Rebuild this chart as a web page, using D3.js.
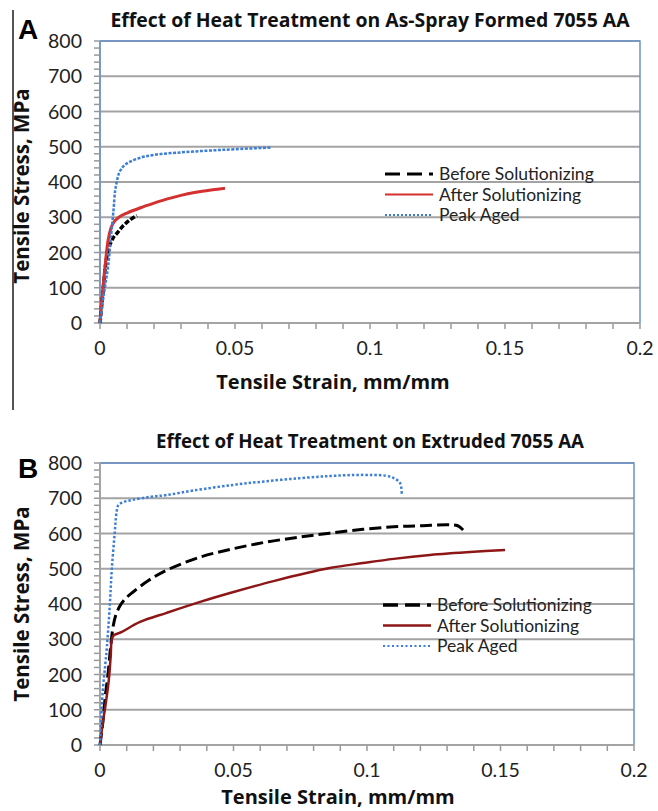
<!DOCTYPE html>
<html>
<head>
<meta charset="utf-8">
<script src="https://cdn.jsdelivr.net/npm/d3@7"></script>
<style>
  body { margin: 0; background: #fff; }
  svg { display: block; font-family: Lato, "Open Sans", sans-serif; }
</style>
</head>
<body>
<div id="chart-area"></div>
<script>
// Panel A: as-spray formed
const aBeforeStrain = [0, 0.001, 0.002, 0.003, 0.004, 0.005, 0.0063, 0.0085, 0.011, 0.0137]
const aBeforeStress = [0, 80, 160, 207, 228, 243, 255, 275, 292, 305]
const aAfterStrain = [0, 0.001, 0.002, 0.003, 0.004, 0.005, 0.007, 0.01, 0.015, 0.02, 0.025, 0.03, 0.035, 0.04, 0.0463]
const aAfterStress = [0, 90, 170, 235, 268, 285, 300, 312, 327, 340, 352, 362, 370, 376, 382]
const aPeakStrain = [0, 0.001, 0.002, 0.003, 0.004, 0.005, 0.0056, 0.0062, 0.007, 0.0086, 0.011, 0.015, 0.02, 0.03, 0.04, 0.05, 0.0637]
const aPeakStress = [0, 60, 110, 160, 240, 320, 375, 400, 424, 444, 457, 469, 477, 484, 489, 493, 498]

// Panel B: extruded
const bBeforeStrain = [0, 0.001, 0.002, 0.003, 0.004, 0.005, 0.006, 0.0075, 0.0095, 0.0124, 0.018, 0.025, 0.0375, 0.05, 0.0625, 0.075, 0.086, 0.0985, 0.11, 0.12, 0.131, 0.134, 0.136]
const bBeforeStress = [0, 60, 140, 200, 280, 340, 370, 395, 415, 434, 466, 496, 533, 557, 576, 590, 601, 612, 619, 622, 625, 622, 610]
const bAfterStrain = [0, 0.001, 0.002, 0.003, 0.0035, 0.004, 0.0049, 0.008, 0.015, 0.025, 0.0375, 0.05, 0.065, 0.086, 0.0985, 0.11, 0.1236, 0.14, 0.1517]
const bAfterStress = [0, 60, 110, 165, 200, 250, 309, 320, 349, 375, 406, 434, 465, 502, 516, 528, 539, 548, 553]
const bPeakStrain = [0, 0.001, 0.002, 0.0026, 0.0037, 0.0044, 0.0055, 0.0062, 0.0069, 0.0087, 0.012, 0.0187, 0.025, 0.035, 0.05, 0.062, 0.075, 0.086, 0.095, 0.102, 0.107, 0.11, 0.1124, 0.113]
const bPeakStress = [0, 150, 230, 280, 400, 497, 600, 660, 681, 689, 695, 704, 709, 722, 738, 748, 757, 763, 766, 766, 764, 757, 743, 712]

const seriesNames = ["Before Solutionizing", "After Solutionizing", "Peak Aged"]
const xTicks = [0, 0.05, 0.1, 0.15, 0.2]
const yTicks = [0, 100, 200, 300, 400, 500, 600, 700, 800]

const svg = d3.select("#chart-area").append("svg")
  .attr("width", 658)
  .attr("height", 811)

// frame line on the left of panel A
svg.append("line")
  .attr("x1", 13).attr("x2", 13)
  .attr("y1", 10).attr("y2", 410)
  .attr("stroke", "#555").attr("stroke-width", 2)

function zip(xs, ys) {
  return xs.map((v, i) => ({ x: v, y: ys[i] }))
}

function drawPanel(p) {
  const x = d3.scaleLinear().domain([0, 0.2]).range([p.left, p.right])
  const y = d3.scaleLinear().domain([0, 800]).range([p.bottom, p.top])
  const g = svg.append("g")

  // gridlines
  g.selectAll(".grid").data(yTicks.slice(1)).enter().append("line")
    .attr("x1", p.left).attr("x2", p.right)
    .attr("y1", d => y(d)).attr("y2", d => y(d))
    .attr("stroke", "#a3a3a3").attr("stroke-width", 2)

  // top + right border
  g.append("path")
    .attr("d", `M${p.left},${p.top}H${p.right}V${p.bottom}`)
    .attr("fill", "none").attr("stroke", "#6a93cc").attr("stroke-width", 1.5)

  // minor ticks
  g.selectAll(".ytick").data(d3.range(0, 801, 20)).enter().append("line")
    .attr("x1", p.left - 6).attr("x2", p.left)
    .attr("y1", d => y(d)).attr("y2", d => y(d))
    .attr("stroke", "#999").attr("stroke-width", 1.5)
  g.selectAll(".xtick").data(d3.range(0, 21).map(i => i / 100)).enter().append("line")
    .attr("x1", d => x(d)).attr("x2", d => x(d))
    .attr("y1", p.bottom).attr("y2", p.bottom + 6)
    .attr("stroke", "#999").attr("stroke-width", 1.5)

  // axes lines
  g.append("line")
    .attr("x1", p.left).attr("x2", p.right)
    .attr("y1", p.bottom).attr("y2", p.bottom)
    .attr("stroke", "#a3a3a3").attr("stroke-width", 2)
  g.append("line")
    .attr("x1", p.left).attr("x2", p.left)
    .attr("y1", p.top).attr("y2", p.bottom)
    .attr("stroke", p.leftAxisColor).attr("stroke-width", 2)

  // tick labels
  g.selectAll(".ylab").data(yTicks).enter().append("text")
    .attr("x", p.left - 18).attr("y", d => y(d))
    .attr("dy", "0.36em")
    .attr("text-anchor", "end")
    .attr("font-size", "19.5px").attr("fill", "#222")
    .text(d => d)
  g.selectAll(".xlab").data(xTicks).enter().append("text")
    .attr("x", d => x(d)).attr("y", p.bottom + 32)
    .attr("text-anchor", "middle")
    .attr("font-size", "19.5px").attr("fill", "#222")
    .text(d => d)

  // titles
  g.append("text")
    .attr("x", 370).attr("y", p.titleY)
    .attr("text-anchor", "middle")
    .attr("font-family", "Open Sans, sans-serif")
    .attr("font-size", p.titleSize).attr("font-weight", "bold").attr("fill", "#111")
    .text(p.title)
  g.append("text")
    .attr("x", 18).attr("y", p.letterY)
    .attr("font-family", "Liberation Sans, Arial, sans-serif")
    .attr("font-size", "28px").attr("font-weight", "bold").attr("fill", "#000")
    .text(p.letter)
  g.append("text")
    .attr("x", p.xLabelX).attr("y", p.xLabelY)
    .attr("text-anchor", "middle")
    .attr("font-family", "Open Sans, sans-serif")
    .attr("font-size", "20px").attr("font-weight", "bold").attr("fill", "#111")
    .text("Tensile Strain, mm/mm")
  g.append("text")
    .attr("transform", `translate(29, ${p.yLabelY}) rotate(-90)`)
    .attr("text-anchor", "middle")
    .attr("font-family", "Open Sans, sans-serif")
    .attr("font-size", "20.5px").attr("font-weight", "bold").attr("fill", "#111")
    .text("Tensile Stress, MPa")

  // curves
  const line = d3.line()
    .x(d => x(d.x))
    .y(d => y(d.y))
    .curve(d3.curveCatmullRom.alpha(0.5))

  p.series.forEach(s => {
    g.append("path")
      .datum(s.data)
      .attr("fill", "none")
      .attr("stroke", s.color)
      .attr("stroke-width", s.width)
      .attr("stroke-dasharray", s.dash)
      .attr("d", line)
  })

  // legend
  const lg = g.append("g").attr("transform", `translate(${p.legendX}, ${p.legendY})`)
  p.series.forEach((s, i) => {
    const row = lg.append("g").attr("transform", `translate(0, ${i * 20.5})`)
    row.append("line")
      .attr("x1", 0).attr("x2", 48)
      .attr("stroke", s.color)
      .attr("stroke-width", s.legendWidth)
      .attr("stroke-dasharray", s.legendDash)
    row.append("text")
      .attr("x", 54).attr("dy", "0.35em")
      .attr("font-size", "17.5px").attr("fill", "#222")
      .text(seriesNames[i])
  })
}

drawPanel({
  left: 100, right: 640, top: 41, bottom: 323,
  leftAxisColor: "#7b99c6",
  title: "Effect of Heat Treatment on As-Spray Formed 7055 AA", titleSize: "19.4px",
  titleY: 27, letter: "A", letterY: 39,
  xLabelX: 333, xLabelY: 389, yLabelY: 186,
  legendX: 385, legendY: 174,
  series: [
    { data: zip(aBeforeStrain, aBeforeStress), color: "#000", width: 3.5, dash: "5,2", legendWidth: 3, legendDash: "15,7" },
    { data: zip(aAfterStrain, aAfterStress), color: "#d3302f", width: 3, dash: null, legendWidth: 2, legendDash: null },
    { data: zip(aPeakStrain, aPeakStress), color: "#3d7fd6", width: 2.5, dash: "3,1.5", legendWidth: 2, legendDash: "2,2" }
  ]
})

drawPanel({
  left: 100, right: 634, top: 463, bottom: 745,
  leftAxisColor: "#a3a3a3",
  title: "Effect of Heat Treatment on Extruded 7055 AA", titleSize: "18.7px",
  titleY: 448, letter: "B", letterY: 478,
  xLabelX: 338, xLabelY: 804, yLabelY: 604,
  legendX: 383, legendY: 605,
  series: [
    { data: zip(bBeforeStrain, bBeforeStress), color: "#000", width: 3, dash: "12,5", legendWidth: 3.5, legendDash: "15,7" },
    { data: zip(bAfterStrain, bAfterStress), color: "#8e1616", width: 2.5, dash: null, legendWidth: 2.5, legendDash: null },
    { data: zip(bPeakStrain, bPeakStress), color: "#3d7fd6", width: 2.5, dash: "2.5,2", legendWidth: 2, legendDash: "2,2.5" }
  ]
})
</script>
</body>
</html>
